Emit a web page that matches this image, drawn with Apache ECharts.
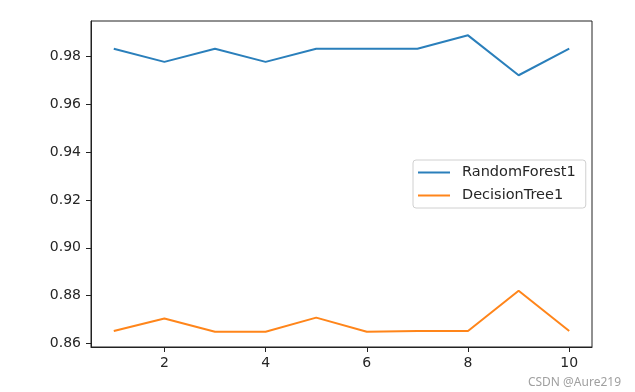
<!DOCTYPE html>
<html><head><meta charset="utf-8">
<script src="https://cdn.jsdelivr.net/npm/echarts@6/dist/echarts.min.js"></script>
<style>html,body{margin:0;padding:0;background:#fff}#c{width:635px;height:392px}</style>
</head><body><div id="c"></div>
<script>
const xValues = [1, 2, 3, 4, 5, 6, 7, 8, 9, 10];
const randomForest1 = [0.9833, 0.9778, 0.9833, 0.9778, 0.9833, 0.9833, 0.9833, 0.9889, 0.9722, 0.9833];
const decisionTree1 = [0.8652, 0.8704, 0.8649, 0.8649, 0.8708, 0.8649, 0.8652, 0.8652, 0.8820, 0.8652];
const xTicks = [2, 4, 6, 8, 10];
const yTicks = [0.86, 0.88, 0.90, 0.92, 0.94, 0.96, 0.98];

const font = 'DejaVu Sans';
const chart = echarts.init(document.getElementById('c'), null, {renderer: 'canvas'});
chart.setOption({
  animation: false,
  backgroundColor: '#fff',
  grid: {left: 91, right: 43, top: 21, bottom: 45, show: true, borderColor: '#222', borderWidth: 1, backgroundColor: 'transparent'},
  xAxis: {
    type: 'value', min: 0.55, max: 10.45,
    splitLine: {show: false},
    axisLine: {show: true, lineStyle: {color: '#222', width: 1}},
    axisTick: {show: true, length: 5, customValues: xTicks, lineStyle: {color: '#222'}},
    axisLabel: {customValues: xTicks, margin: 9, color: '#262626', fontFamily: font, fontSize: 14}
  },
  yAxis: {
    type: 'value', min: 0.8585, max: 0.9949,
    splitLine: {show: false},
    axisLine: {show: true, lineStyle: {color: '#222', width: 1}},
    axisTick: {show: true, length: 5, customValues: yTicks, lineStyle: {color: '#222'}},
    axisLabel: {customValues: yTicks, margin: 10, color: '#262626', fontFamily: font, fontSize: 14,
      formatter: v => v.toFixed(2)}
  },
  legend: {
    orient: 'vertical', left: 413, top: 160,
    backgroundColor: '#fff', borderColor: '#d0d0d0', borderWidth: 1, borderRadius: 3,
    padding: [5, 10, 5, 5], itemGap: 8, itemWidth: 32, itemHeight: 2, icon: 'rect',
    textStyle: {fontFamily: font, fontSize: 14.5, color: '#262626', padding: [0, 0, 0, 7]},
    data: ['RandomForest1', 'DecisionTree1']
  },
  series: [
    {name: 'RandomForest1', type: 'line', data: xValues.map((x, i) => [x, randomForest1[i]]),
      showSymbol: false, symbol: 'none', color: '#2a7fbb', lineStyle: {width: 2, color: '#2a7fbb'}},
    {name: 'DecisionTree1', type: 'line', data: xValues.map((x, i) => [x, decisionTree1[i]]),
      showSymbol: false, symbol: 'none', color: '#ff851a', lineStyle: {width: 2, color: '#ff851a'}}
  ],
  graphic: [{type: 'text', right: 14, bottom: 3, style: {text: 'CSDN @Aure219', fill: '#a0a0a0', font: '12px "Noto Sans"'}}]
});
</script></body></html>
